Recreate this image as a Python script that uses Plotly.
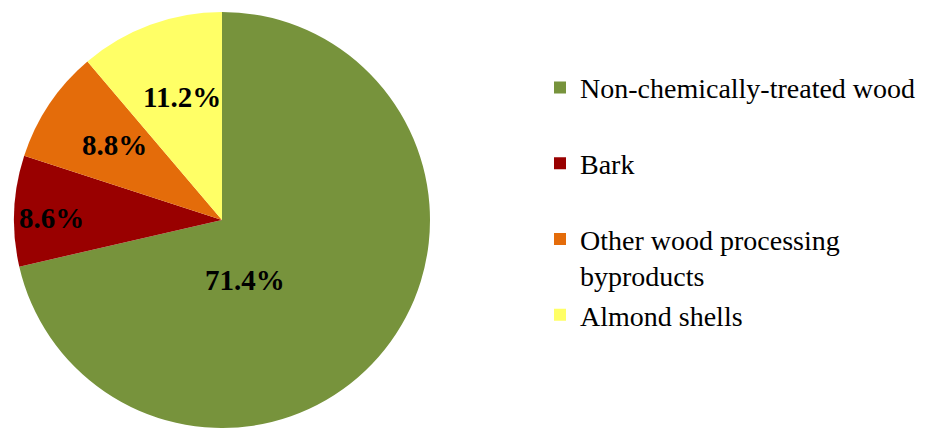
import math
import plotly.graph_objects as go

categories = ["Non-chemically-treated wood", "Bark", "Other wood processing byproducts", "Almond shells"]
values = [71.4, 8.6, 8.8, 11.2]
colors = ["#77933C", "#990000", "#E46C0A", "#FFFF66"]
legend_labels = ["Non-chemically-treated wood<br> ", "Bark<br> ", "Other wood processing<br>byproducts", "Almond shells"]

# label placement style (radius fraction, angle adjustment in degrees)
label_rfrac = [0.31, 0.82, 0.63, 0.62]
label_dang = [30.5, -1.8, 1.2, 2.2]

W, H = 933, 428
ML, MR, MT, MB = 13, 0, 12, 0
PW, PH = W - ML - MR, H - MT - MB
pie_w = 418

fig = go.Figure(go.Pie(
    labels=legend_labels,
    values=values,
    marker=dict(colors=colors, line=dict(width=0)),
    sort=False,
    direction="clockwise",
    rotation=0,
    textinfo="none",
    domain=dict(x=[0, pie_w / PW], y=[0, 1]),
    hoverinfo="skip",
))

# percent labels positioned from the slice values
total = sum(values)
R = min(pie_w, PH) / 2
cx = pie_w / 2  # in plot-area px
cy = PH / 2
cum = 0.0
annotations = []
for v, rf, da in zip(values, label_rfrac, label_dang):
    mid = (cum + v / 2) / total * 360 + da
    cum += v
    a = math.radians(mid)
    px = cx + rf * R * math.sin(a)
    py = cy + rf * R * math.cos(a)  # up from center
    annotations.append(dict(
        x=px / PW, y=py / PH, xref="paper", yref="paper",
        text=f"<b>{v / total * 100:.1f}%</b>", showarrow=False,
        font=dict(family="Liberation Serif", size=29, color="black"),
        xanchor="center", yanchor="middle",
    ))

fig.update_layout(
    width=W, height=H,
    margin=dict(l=ML, r=MR, t=MT, b=MB),
    paper_bgcolor="white",
    font=dict(family="Liberation Serif", color="black"),
    showlegend=True,
    legend=dict(
        x=(540 - ML) / PW, xanchor="left", y=0.878, yanchor="top",
        font=dict(family="Liberation Serif", size=28, color="black"),
        valign="top",
        tracegroupgap=0,
    ),
    annotations=annotations,
)

fig.write_html("out.html")
